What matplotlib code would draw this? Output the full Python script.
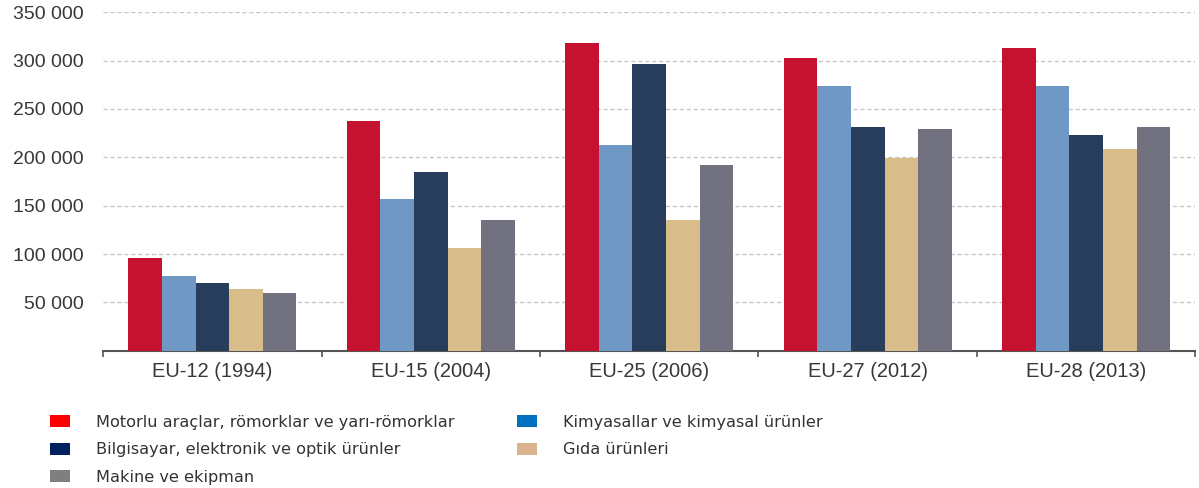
import numpy as np
import matplotlib.pyplot as plt
from matplotlib.patches import Patch
from matplotlib.ticker import FuncFormatter

# --- data ---
groups = ['EU-12 (1994)', 'EU-15 (2004)', 'EU-25 (2006)', 'EU-27 (2012)', 'EU-28 (2013)']
motorlu = [96000, 237500, 318000, 303000, 313000]
kimya = [77000, 157000, 213000, 274000, 274000]
bilgisayar = [70000, 184500, 296000, 231500, 223000]
gida = [64000, 106000, 135000, 199500, 208500]
makine = [60000, 135000, 192000, 229000, 231500]

labels = ['Motorlu araçlar, römorklar ve yarı-römorklar',
          'Kimyasallar ve kimyasal ürünler',
          'Bilgisayar, elektronik ve optik ürünler',
          'Gıda ürünleri',
          'Makine ve ekipman']

series = [motorlu, kimya, bilgisayar, gida, makine]
bar_colors = ['#c41230', '#7098c4', '#283c5c', '#d8bc8a', '#72717f']
legend_colors = ['#ff0000', '#0070c0', '#002060', '#d9b38c', '#7f7f7f']

fig = plt.figure(figsize=(11.99, 4.88), dpi=100)
ax = fig.add_axes([0.086, 0.281, 0.911, 0.694])

x = np.arange(len(groups))
w = 0.154
for i, vals in enumerate(series):
    ax.bar(x + (i - 2) * w, vals, width=w, color=bar_colors[i], zorder=3)

ax.set_xlim(-0.5, 4.5)
ax.set_ylim(0, 350000)
ax.set_yticks(np.arange(50000, 350001, 50000))
ax.yaxis.set_major_formatter(FuncFormatter(lambda v, p: f'{int(v):,}'.replace(',', ' ')))
ax.grid(axis='y', linestyle=(0, (3, 2)), color='#c8c8c8', linewidth=1, zorder=0)

for s in ['left', 'right', 'top']:
    ax.spines[s].set_visible(False)
ax.spines['bottom'].set_color('#555555')
ax.spines['bottom'].set_linewidth(1.5)

ax.set_xticks(x)
ax.set_xticklabels(groups, fontsize=14.5, color='#383838', family='Liberation Sans')
ax.tick_params(axis='x', which='major', length=0, pad=8)
ax.set_xticks(np.arange(-0.5, 5, 1), minor=True)
ax.tick_params(axis='x', which='minor', length=4, color='#555555', width=1.2)
ax.tick_params(axis='y', length=0, pad=14, labelsize=14, labelcolor='#383838')
for t in ax.get_yticklabels():
    t.set_family('Liberation Sans')

# legend, column-first order
order = [0, 2, 4, 1, 3]
handles = [Patch(facecolor=legend_colors[i], edgecolor='none') for i in order]
fig.legend(handles, [labels[i] for i in order], ncol=2, loc='upper left',
           bbox_to_anchor=(50 / 1199, 0.150), frameon=False,
           borderpad=0, borderaxespad=0,
           prop={'family': 'DejaVu Sans', 'size': 11.6},
           handlelength=1.25, handleheight=0.75, handletextpad=1.6,
           labelspacing=0.78, columnspacing=3.9, labelcolor='#333333')

fig.savefig('out.png', dpi=100)
